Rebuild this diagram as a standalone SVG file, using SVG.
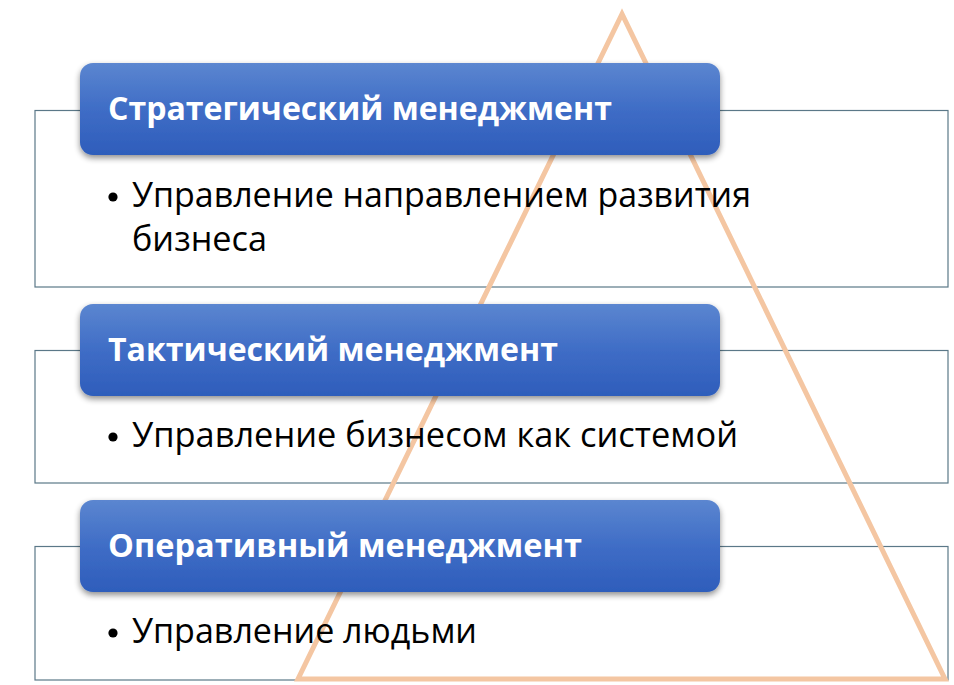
<svg xmlns="http://www.w3.org/2000/svg" width="954" height="685" viewBox="0 0 954 685">
<defs>
<linearGradient id="hg" x1="0" y1="0" x2="0" y2="1">
<stop offset="0" stop-color="#5b86d0"/>
<stop offset="0.5" stop-color="#3f6dc6"/>
<stop offset="1" stop-color="#2e5dbb"/>
</linearGradient>
<filter id="sh" x="-5%" y="-10%" width="110%" height="130%">
<feGaussianBlur in="SourceAlpha" stdDeviation="3"/>
<feOffset dx="0" dy="3" result="b"/>
<feComponentTransfer><feFuncA type="linear" slope="0.45"/></feComponentTransfer>
<feMerge><feMergeNode/><feMergeNode in="SourceGraphic"/></feMerge>
</filter>
</defs>
<style>
.box{fill:none;stroke:#5b7888;stroke-width:1.2}
.hdr{fill:url(#hg);filter:url(#sh)}
.ht{font-family:"Open Sans","Noto Sans","DejaVu Sans",sans-serif;font-weight:bold;font-size:33px;fill:#ffffff}
.bt{font-family:"Open Sans","Noto Sans","DejaVu Sans",sans-serif;font-size:35px;fill:#000000}
.tri{fill:none;stroke:#f4c6a2;stroke-width:5;stroke-linejoin:miter}
</style>
<rect width="954" height="685" fill="#ffffff"/>
<g id="frames">
<rect class="box" x="35" y="110.5" width="913" height="176.5"/>
<rect class="box" x="35" y="350.5" width="913" height="132.5"/>
<rect class="box" x="35" y="546.5" width="913" height="133.5"/>
</g>
<g id="triangle">
<polygon class="tri" points="622,14 298,679 945,679"/>
</g>
<g id="body-1">
<circle cx="113" cy="197" r="4.6" fill="#000"/>
<text class="bt" x="132" y="207" textLength="619" lengthAdjust="spacingAndGlyphs">Управление направлением развития</text>
<text class="bt" x="132" y="251" textLength="135" lengthAdjust="spacingAndGlyphs">бизнеса</text>
</g>
<g id="body-2">
<circle cx="113" cy="437" r="4.6" fill="#000"/>
<text class="bt" x="132" y="447" textLength="606" lengthAdjust="spacingAndGlyphs">Управление бизнесом как системой</text>
</g>
<g id="body-3">
<circle cx="113" cy="633" r="4.6" fill="#000"/>
<text class="bt" x="132" y="643" textLength="345" lengthAdjust="spacingAndGlyphs">Управление людьми</text>
</g>
<g id="header-1">
<rect class="hdr" x="80" y="63" width="640" height="92" rx="13"/>
<text class="ht" x="108" y="120" textLength="504" lengthAdjust="spacingAndGlyphs">Стратегический менеджмент</text>
</g>
<g id="header-2">
<rect class="hdr" x="80" y="304" width="640" height="92" rx="13"/>
<text class="ht" x="108" y="361" textLength="450" lengthAdjust="spacingAndGlyphs">Тактический менеджмент</text>
</g>
<g id="header-3">
<rect class="hdr" x="80" y="500" width="640" height="92" rx="13"/>
<text class="ht" x="108" y="557" textLength="474" lengthAdjust="spacingAndGlyphs">Оперативный менеджмент</text>
</g>
</svg>
